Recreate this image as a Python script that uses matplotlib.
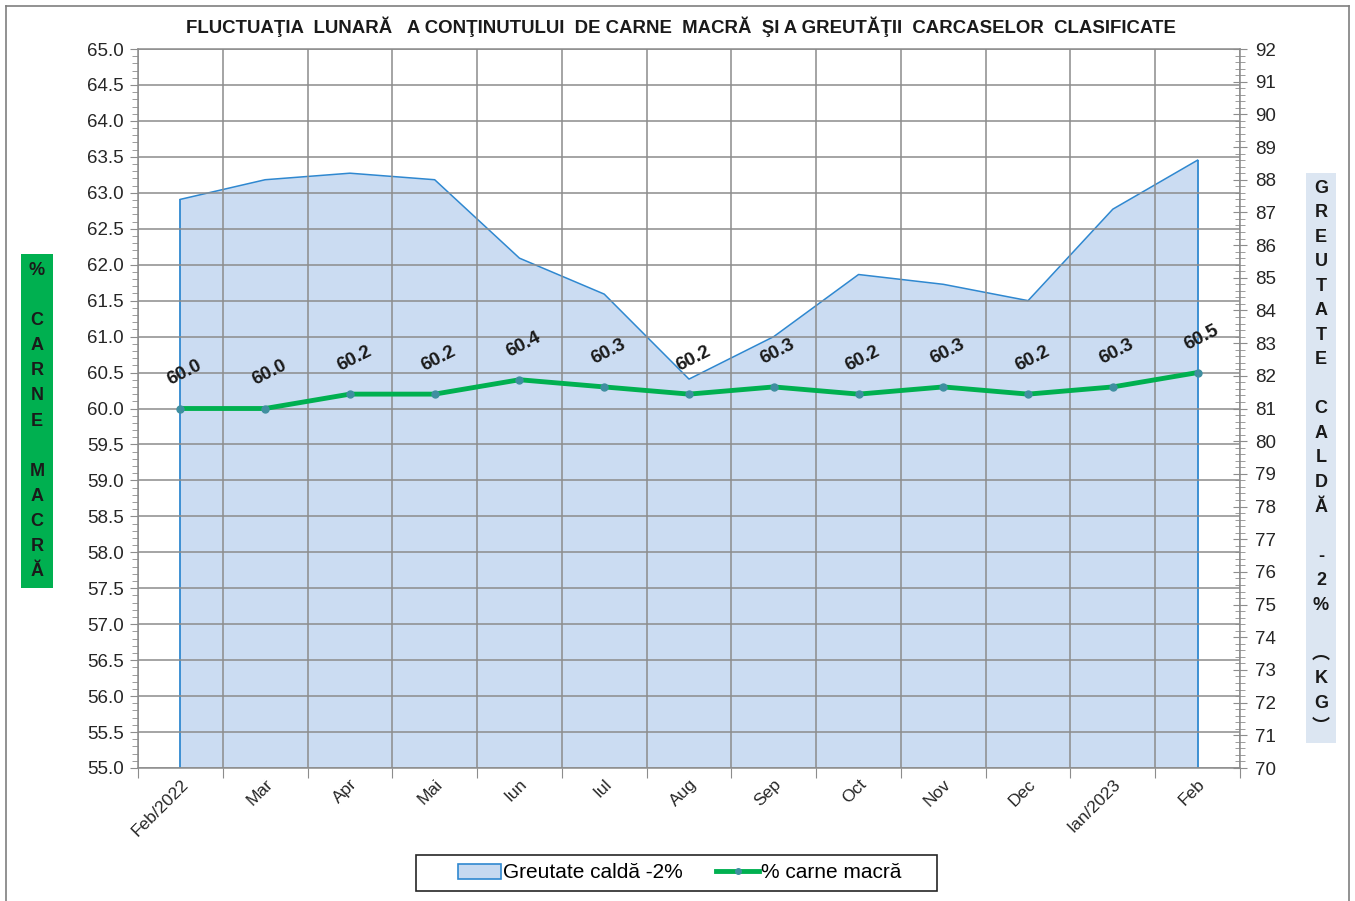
import matplotlib.pyplot as plt
import numpy as np
from matplotlib.ticker import MultipleLocator, FormatStrFormatter
from matplotlib.lines import Line2D
from matplotlib.patches import Patch, Rectangle

plt.rcParams['font.family'] = ['Liberation Sans', 'DejaVu Sans']

months = ['Feb/2022', 'Mar', 'Apr', 'Mai', 'Iun', 'Iul', 'Aug', 'Sep', 'Oct',
          'Nov', 'Dec', 'Ian/2023', 'Feb']
greutate = [87.4, 88.0, 88.2, 88.0, 85.6, 84.5, 81.9, 83.2, 85.1, 84.8, 84.3, 87.1, 88.6]
carne = [60.0, 60.0, 60.2, 60.2, 60.4, 60.3, 60.2, 60.3, 60.2, 60.3, 60.2, 60.3, 60.5]

title = "FLUCTUAŢIA  LUNARĂ   A CONŢINUTULUI  DE CARNE  MACRĂ  ŞI A GREUTĂŢII  CARCASELOR  CLASIFICATE"

W, H = 1355, 901
fig = plt.figure(figsize=(W / 100, H / 100), dpi=100)
ax = fig.add_axes([138 / W, 1 - 768 / H, (1240 - 138) / W, (768 - 49) / H])
ax2 = ax.twinx()

x = np.arange(len(months))
grid_c = '#8c8c8c'

# left axis (% carne macra) - grid belongs here
ax.set_xlim(-0.5, len(months) - 0.5)
ax.set_ylim(55, 65)
ax.yaxis.set_major_locator(MultipleLocator(0.5))
ax.yaxis.set_minor_locator(MultipleLocator(0.1))
ax.yaxis.set_major_formatter(FormatStrFormatter('%.1f'))
ax.set_xticks(np.arange(len(months) + 1) - 0.5, minor=False)
ax.set_xticklabels([])
ax.grid(True, axis='both', color=grid_c, lw=1.1)
ax.tick_params(axis='y', which='major', direction='out', length=6, color=grid_c,
               labelsize=13.5, labelcolor='#262626', pad=4)
ax.tick_params(axis='y', which='minor', direction='out', length=4, color=grid_c)
ax.tick_params(axis='x', direction='out', length=7, color=grid_c)
for s in ax.spines.values():
    s.set_color(grid_c)
    s.set_linewidth(1.1)

# month labels at the category centres
for xi, m in zip(x, months):
    ax.annotate(m, (xi, 55), xycoords='data', xytext=(0, -6), textcoords='offset points',
                rotation=45, ha='right', va='top', fontsize=12.5, color='#262626',
                rotation_mode='anchor', annotation_clip=False)

# right axis (greutate calda)
ax2.set_ylim(70, 92)
ax2.yaxis.set_major_locator(MultipleLocator(1))
ax2.yaxis.set_minor_locator(MultipleLocator(0.2))
ax2.tick_params(axis='y', which='major', direction='inout', length=10, color=grid_c,
                labelsize=13.5, labelcolor='#262626', pad=6)
ax2.tick_params(axis='y', which='minor', direction='inout', length=7, color=grid_c)
for s in ax2.spines.values():
    s.set_visible(False)

ax2.fill_between(x, 70, greutate, facecolor='#a9c6ea', alpha=0.6, lw=0, zorder=1)
ax2.plot(x, greutate, color='#2f88d0', lw=1.1, zorder=2)
ax2.vlines([x[0], x[-1]], 70, [greutate[0], greutate[-1]], color='#2f88d0', lw=1.3, zorder=2)

# green line on top
ax.set_zorder(ax2.get_zorder() + 1)
ax.patch.set_visible(False)
ax.plot(x, carne, color='#00b050', lw=3.5, marker='o', markersize=5,
        markerfacecolor='#3f8fa0', markeredgecolor='#3f8fa0', zorder=5,
        solid_capstyle='round')
for xi, v in zip(x, carne):
    ax.annotate(f'{v:.1f}', (xi, v), xytext=(3, 14), textcoords='offset points',
                rotation=27, ha='center', va='bottom', fontsize=13.5, fontweight='bold',
                color='#1a1a1a', zorder=6)

# title
fig.text(681 / W, 1 - 27 / H, title, ha='center', va='center', fontsize=13.4,
         fontweight='bold', color='#1a1a1a')

# side labels
left_lbl = "%\n\nC\nA\nR\nN\nE\n\nM\nA\nC\nR\nĂ"
fig.text(37 / W, 1 - 421 / H, left_lbl, ha='center', va='center', fontsize=13,
         fontweight='bold', color='#1a1a1a', linespacing=1.62,
         bbox=dict(boxstyle='square,pad=0.45', facecolor='#00b050', edgecolor='none'))
right_lbl = "G\nR\nE\nU\nT\nA\nT\nE\n\nC\nA\nL\nD\nĂ\n\n-\n2\n%\n\n︵\nK\nG\n︶"
fig.text(1321 / W, 1 - 458 / H, right_lbl, ha='center', va='center', fontsize=13,
         fontweight='bold', color='#1a1a1a', linespacing=1.58,
         family=['Liberation Sans', 'Noto Sans CJK SC', 'DejaVu Sans'],
         bbox=dict(boxstyle='square,pad=0.35', facecolor='#dce6f2', edgecolor='none'))

# legend (frame drawn separately)
fig.add_artist(Rectangle((416 / W, 1 - 891 / H), (937 - 416) / W, 36 / H,
                         transform=fig.transFigure, facecolor='white',
                         edgecolor='#262626', lw=1.2))
handles = [Patch(facecolor='#c6d9f0', edgecolor='#2f88d0', lw=1.2),
           Line2D([0], [0], color='#00b050', lw=3.5, marker='o', markersize=4,
                  markerfacecolor='#3f8fa0', markeredgecolor='#3f8fa0')]
leg = fig.legend(handles, ['Greutate caldă -2%', '% carne macră'], loc='center',
                 bbox_to_anchor=(680 / W, 1 - 873 / H), ncol=2, fontsize=15,
                 frameon=False, handlelength=2.05, handletextpad=0.1,
                 columnspacing=1.6, borderpad=0.2, borderaxespad=0)

# outer frame
for xs, ys in [([6, 6], [6, 901]), ([6, 1349], [6, 6]), ([1349, 1349], [6, 901])]:
    fig.add_artist(Line2D([v / W for v in xs], [1 - v / H for v in ys],
                          color='#7f7f7f', lw=1.2))

fig.savefig('out.png', dpi=100)
